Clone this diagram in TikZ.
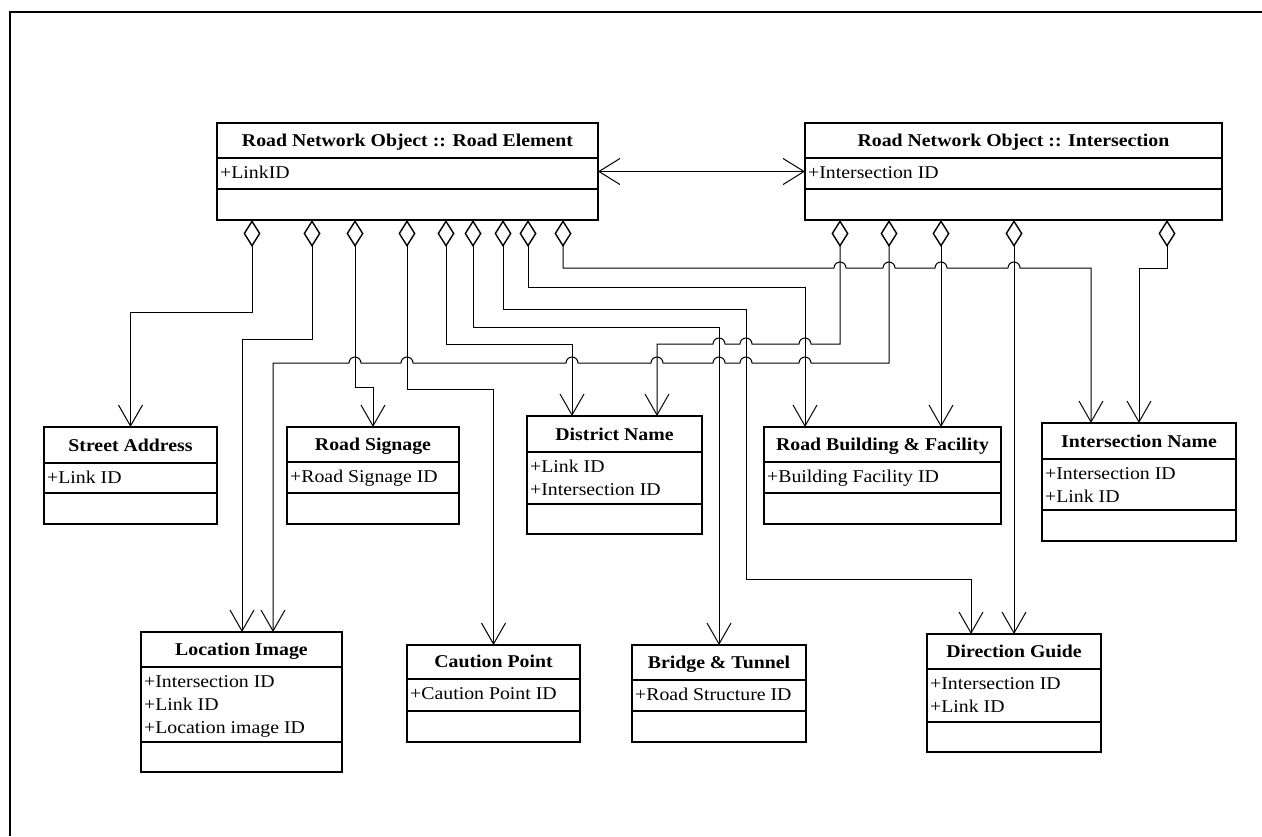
\documentclass[tikz,border=0pt]{standalone}
\usepackage{fontspec}
\setmainfont{Liberation Serif}[FakeStretch=1.1]
\usetikzlibrary{arrows.meta,calc,fit}

\tikzset{
  classbox/.style={draw, line width=1.6pt, inner sep=0pt, outer sep=0pt},
  divider/.style={line width=1.6pt},
  titletext/.style={anchor=base, inner sep=0pt, font=\fontsize{18}{23}\selectfont\bfseries},
  attrtext/.style={anchor=base west, inner sep=0pt, font=\fontsize{18}{23}\selectfont},
  agg/.style={line width=1pt, arrows={Diamond[open,length=27pt,width=17pt,line width=1.4pt]-Straight Barb[length=21pt,width=24pt]}},
  assoc/.style={line width=1pt, arrows={Straight Barb[length=21pt,width=26pt]-Straight Barb[length=21pt,width=26pt]}},
  frame/.style={line width=2pt},
  hop/.style={radius=6pt},
}

% UML class: name, left, top, right, title rule, attribute rule, bottom, title, attributes
\newcommand{\umlclass}[9]{%
  \coordinate (#1-nw) at (#2,#3);
  \coordinate (#1-se) at (#4,#7);
  \node[classbox, fit=(#1-nw)(#1-se)] (#1) {};
  \draw[divider] (#2,#5) -- (#4,#5);
  \draw[divider] (#2,#6) -- (#4,#6);
  \node[titletext] (#1-title) at ({(#2+#4)/2},#5-12) {#8};
  \node[attrtext] (#1-attr) at (#2+3,#5+20) {\begin{tabular}[t]{@{}l@{}}#9\end{tabular}};
}

\begin{document}
\begin{tikzpicture}[x=1pt, y=-1pt]
\useasboundingbox (0,0) rectangle (1262,836);

% page frame
\draw[frame] (10,836) -- (10,12) -- (1262,12);

% classes
\umlclass{re}{217}{123}{598}{158}{189}{220}{Road Network Object :: Road Element}{+LinkID}
\umlclass{ix}{805}{123}{1222}{158}{189}{220}{Road Network Object :: Intersection}{+Intersection ID}
\umlclass{sa}{44}{427}{217}{463}{493}{524}{Street Address}{+Link ID}
\umlclass{rs}{287}{427}{459}{462}{493}{524}{Road Signage}{+Road Signage ID}
\umlclass{dn}{527}{416}{702}{452}{504}{534}{District Name}{+Link ID\\+Intersection ID}
\umlclass{rb}{764}{427}{1001}{462}{493}{524}{Road Building \& Facility}{+Building Facility ID}
\umlclass{in}{1042}{423}{1236}{459}{510}{541}{Intersection Name}{+Intersection ID\\+Link ID}
\umlclass{li}{141}{632}{342}{667}{742}{772}{Location Image}{+Intersection ID\\+Link ID\\+Location image ID}
\umlclass{cp}{407}{645}{580}{679}{711}{742}{Caution Point}{+Caution Point ID}
\umlclass{bt}{632}{645}{806}{680}{711}{742}{Bridge \& Tunnel}{+Road Structure ID}
\umlclass{dg}{927}{634}{1101}{669}{722}{752}{Direction Guide}{+Intersection ID\\+Link ID}

% association between the two network objects
\draw[assoc] (re.east) -- (ix.west);

% aggregations from the road element
\draw[agg] ($(re.south west)+(35,0)$) -- ++(0,92) -| (sa.north);
\draw[agg] ($(re.south west)+(95,0)$) -- ++(0,119) -| ($(li.north west)+(101,0)$);
\draw[agg] ($(re.south west)+(138,0)$) -- ++(0,167) -| (rs.north);
\draw[agg] ($(re.south west)+(190,0)$) -- ++(0,169) -| (cp.north);
\draw[agg] ($(re.south west)+(229,0)$) -- ++(0,124) -| ($(dn.north west)+(45,0)$);
\draw[agg] ($(re.south west)+(256,0)$) -- ++(0,107) -| (bt.north);
\draw[agg] ($(re.south west)+(286,0)$) -- ++(0,89) -| ++(243,270) -| ($(dg.north west)+(44,0)$);
\draw[agg] ($(re.south west)+(311,0)$) -- ++(0,67) -| ($(rb.north west)+(41,0)$);
\draw[agg] ($(re.south west)+(346,0)$) -- ++(0,48)
  -- (834,268) arc[start angle=180, end angle=0, hop]
  -- (883,268) arc[start angle=180, end angle=0, hop]
  -- (935,268) arc[start angle=180, end angle=0, hop]
  -- (1008,268) arc[start angle=180, end angle=0, hop]
  -| ($(in.north west)+(49,0)$);

% aggregations from the intersection
\draw[agg] ($(ix.south west)+(35,0)$) -- ++(0,124)
  -- (811,344) arc[start angle=0, end angle=180, hop]
  -- (752,344) arc[start angle=0, end angle=180, hop]
  -- (725,344) arc[start angle=0, end angle=180, hop]
  -| ($(dn.north west)+(130,0)$);
\draw[agg] ($(ix.south west)+(84,0)$) -- ++(0,143)
  -- (811,363) arc[start angle=0, end angle=180, hop]
  -- (752,363) arc[start angle=0, end angle=180, hop]
  -- (725,363) arc[start angle=0, end angle=180, hop]
  -- (663,363) arc[start angle=0, end angle=180, hop]
  -- (578,363) arc[start angle=0, end angle=180, hop]
  -- (413,363) arc[start angle=0, end angle=180, hop]
  -- (361,363) arc[start angle=0, end angle=180, hop]
  -| ($(li.north west)+(132,0)$);
\draw[agg] ($(ix.south west)+(136,0)$) -- ($(rb.north west)+(177,0)$);
\draw[agg] ($(ix.south west)+(209,0)$) -- ($(dg.north west)+(87,0)$);
\draw[agg] ($(ix.south west)+(362,0)$) -- ++(0,48) -| ($(in.north west)+(97,0)$);
\end{tikzpicture}
\end{document}
